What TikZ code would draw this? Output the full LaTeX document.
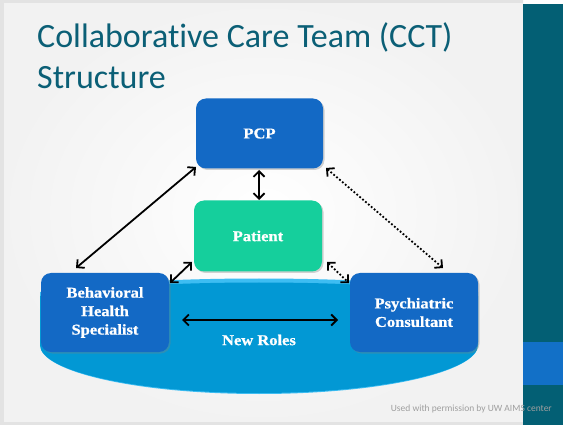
\documentclass[tikz,border=0pt]{standalone}
\usepackage{fontspec}
\setmainfont{Liberation Serif}
\newfontfamily\titlefont[Ligatures=NoCommon]{Carlito}
\newfontfamily\boxfont[FakeStretch=1.1, BoldFeatures={FakeBold=0.8}]{Liberation Serif}
\usetikzlibrary{arrows.meta,shadows}
\definecolor{titleteal}{HTML}{0B5F76}
\definecolor{bandteal}{HTML}{035F74}
\definecolor{bandblue}{HTML}{1270C7}
\definecolor{boxblue}{HTML}{1369C5}
\definecolor{boxgreen}{HTML}{15CF9C}
\definecolor{bowl}{HTML}{0298D4}
\definecolor{bowltop}{HTML}{3DBDF2}
\tikzset{
  rolebox/.style={draw=none, rounded corners=10pt, minimum width=127pt, minimum height=70pt,
     text=white, font=\boxfont\bfseries\fontsize{15}{18.5}\selectfont, align=center,
     drop shadow={shadow xshift=1.5pt, shadow yshift=-1.5pt, opacity=0.35}},
  link/.style={black, line width=1.8pt, {Straight Barb[length=5.5pt,width=11pt]}-{Straight Barb[length=5.5pt,width=11pt]}},
  dotlink/.style={link, dotted, line cap=butt}
}
\begin{document}
\begin{tikzpicture}[x=1pt,y=-1pt]
\useasboundingbox (0,0) rectangle (563,425);
% background
\shade[inner color=white, outer color=gray!22] (0,0) rectangle (523,425);
\fill[white] (4,4) rectangle (523,421);
\shade[inner color=white, outer color=white!90!gray] (4,4) rectangle (523,421);
\fill[bandteal] (523,4) rectangle (563,425);
\fill[bandblue] (523,342) rectangle (563,385);
% title
\node[anchor=base west, inner sep=0pt, text=titleteal, font=\titlefont\fontsize{34}{40}\selectfont] (t1) at (37,47.3) {Collaborative Care Team (CCT)};
\node[anchor=base west, inner sep=0pt, text=titleteal, font=\titlefont\fontsize{34}{40}\selectfont] (t2) at (37,88.7) {Structure};
% bowl
\fill[bowltop] (40,345) -- (40,292) .. controls (140,274) and (378,274) .. (478,292) -- (478,345)
   arc[start angle=0, end angle=180, x radius=219, y radius=49] -- cycle;
\fill[bowl] (40,345) -- (40,296) .. controls (140,278) and (378,278) .. (478,296) -- (478,345)
   arc[start angle=0, end angle=180, x radius=219, y radius=48] -- cycle;
% boxes
\node[rolebox, fill=boxblue, minimum width=127pt, minimum height=70pt] (pcp) at (259.5,133.5) {PCP};
\node[rolebox, fill=boxgreen, minimum width=128pt, minimum height=71pt] (pat) at (258,236) {Patient};
\node[rolebox, fill=boxblue, minimum width=128pt, minimum height=79pt] (bhs) at (105,312.5) {Behavioral\\Health\\Specialist};
\node[rolebox, fill=boxblue, minimum width=128pt, minimum height=79pt] (psy) at (414,312.5) {Psychiatric\\Consultant};
\node[text=white, font=\boxfont\bfseries\fontsize{15}{18}\selectfont, inner sep=0pt] (nr) at (259,340) {New Roles};
% connectors
\coordinate (bhsA) at (76,268);
\coordinate (pcpA) at (196,167);
\draw[link] (bhsA) -- (pcpA);
\coordinate (pcpB) at (259,170);
\coordinate (patB) at (259,200);
\draw[link] (pcpB) -- (patB);
\coordinate (patC) at (192,262);
\coordinate (bhsC) at (170,283);
\draw[link] (patC) -- (bhsC);
\coordinate (patD) at (327,262);
\coordinate (psyD) at (349,283);
\draw[dotlink] (patD) -- (psyD);
\coordinate (pcpE) at (326,168);
\coordinate (psyE) at (443,268);
\draw[dotlink] (pcpE) -- (psyE);
\coordinate (bhsF) at (182,320);
\coordinate (psyF) at (338,320);
\draw[link] (bhsF) -- (psyF);
% footer
\node[anchor=base east, inner sep=0pt, text=gray!75, font=\titlefont\fontsize{9.5}{11}\selectfont] (foot) at (552,411) {Used with permission by UW AIMS center};
\end{tikzpicture}
\end{document}
